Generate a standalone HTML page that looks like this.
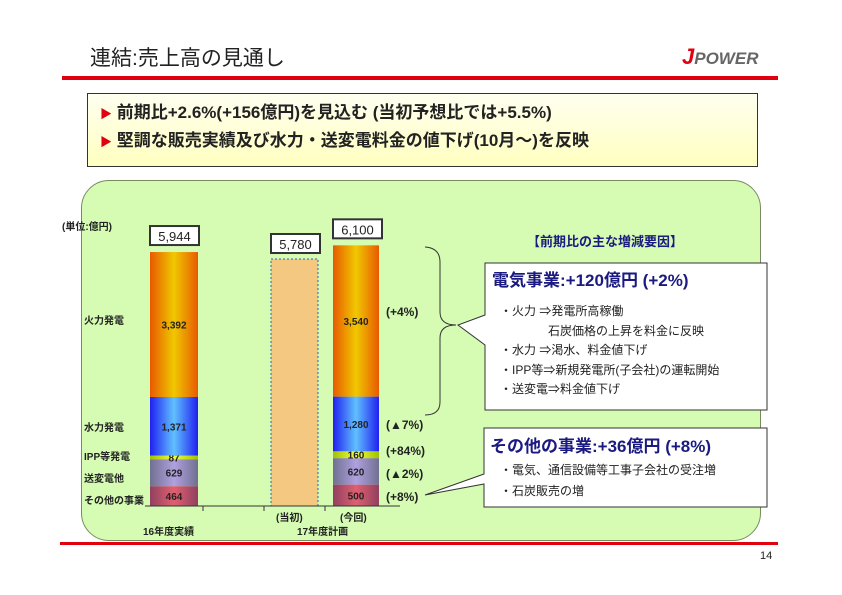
<!DOCTYPE html>
<html><head><meta charset="utf-8">
<style>
body{margin:0;width:842px;height:595px;background:#fff;position:relative;overflow:hidden;font-family:"Liberation Sans","Noto Sans CJK JP",sans-serif;}
.a{position:absolute;white-space:nowrap;}
</style></head>
<body>
<div class="a" style="left:90px;top:42px;font-size:21px;color:#222;">連結:売上高の見通し</div>
<div class="a" style="left:682px;top:44px;font-size:17px;font-weight:bold;font-style:italic;color:#666;"><span style="color:#e00010;font-size:22px;">J</span>POWER</div>
<div class="a" style="left:62px;top:76px;width:716px;height:4px;background:#e00010;"></div>
<div class="a" style="left:87px;top:93px;width:669px;height:72px;border:1px solid #333;background:linear-gradient(#fffff0,#ffffc0);"></div>
<div class="a" style="left:100px;top:98px;font-size:17px;font-weight:bold;color:#222;"><span style="color:#e00010;font-size:12px;">▶</span> 前期比+2.6%(+156億円)を見込む (当初予想比では+5.5%)</div>
<div class="a" style="left:100px;top:126px;font-size:17px;font-weight:bold;color:#222;"><span style="color:#e00010;font-size:12px;">▶</span> 堅調な販売実績及び水力・送変電料金の値下げ(10月～)を反映</div>
<div class="a" style="left:81px;top:180px;width:678px;height:359px;background:#d6fcb4;border:1px solid #7a8a60;border-radius:28px;"></div>
<div class="a" style="left:60px;top:542px;width:718px;height:3px;background:#e00010;"></div>
<div class="a" style="left:760px;top:550px;font-size:11px;color:#222;">14</div>

<svg class="a" style="left:0;top:0" width="842" height="595">
<defs>
<linearGradient id="g0" x1="0" x2="1"><stop offset="0" stop-color="#e85a00"/><stop offset=".5" stop-color="#f0c800"/><stop offset="1" stop-color="#e85a00"/></linearGradient>
<linearGradient id="g1" x1="0" x2="1"><stop offset="0" stop-color="#2020f0"/><stop offset=".5" stop-color="#60c0ff"/><stop offset="1" stop-color="#2020f0"/></linearGradient>
<linearGradient id="g2" x1="0" x2="1"><stop offset="0" stop-color="#a0c000"/><stop offset=".5" stop-color="#f0ff40"/><stop offset="1" stop-color="#a0c000"/></linearGradient>
<linearGradient id="g3" x1="0" x2="1"><stop offset="0" stop-color="#707090"/><stop offset=".5" stop-color="#b0a0e0"/><stop offset="1" stop-color="#707090"/></linearGradient>
<linearGradient id="g4" x1="0" x2="1"><stop offset="0" stop-color="#904060"/><stop offset=".5" stop-color="#e06070"/><stop offset="1" stop-color="#904060"/></linearGradient>
</defs>
<g id="bars"></g>
<g fill="none" stroke="#333" stroke-width="1">
<path d="M425 247 Q440 248 440 262 L440 312 Q440 325 456 325 Q440 325 440 338 L440 402 Q440 415 425 415"/>
</g>
<path d="M485 263 L767 263 L767 410 L485 410 L485 345 L458 325 L485 315 Z" fill="#fff" stroke="#333"/>
<path d="M484 428 L767 428 L767 507 L484 507 L484 484 L425 495 L484 474 Z" fill="#fff" stroke="#333"/>
</svg>

<div class="a" style="left:527px;top:231px;font-size:13px;font-weight:bold;color:#1a1a80;">【前期比の主な増減要因】</div>
<div class="a" style="left:492px;top:266px;font-size:17px;font-weight:bold;color:#1a1a80;">電気事業:+120億円 (+2%)</div>
<div class="a" style="left:500px;top:302px;font-size:12px;line-height:19.5px;color:#222;">・火力 ⇒発電所高稼働<br>　　　　石炭価格の上昇を料金に反映<br>・水力 ⇒渇水、料金値下げ<br>・IPP等⇒新規発電所(子会社)の運転開始<br>・送変電⇒料金値下げ</div>
<div class="a" style="left:490px;top:432px;font-size:17px;font-weight:bold;color:#1a1a80;">その他の事業:+36億円 (+8%)</div>
<div class="a" style="left:500px;top:460px;font-size:12px;line-height:21px;color:#222;">・電気、通信設備等工事子会社の受注増<br>・石炭販売の増</div>

<script>
const categories=["その他の事業","送変電他","IPP等発電","水力発電","火力発電"];
const actual16=[464,629,87,1371,3392];
const plan17=[500,620,160,1280,3540];
const initial17=[5780];
const totals=["5,944","5,780","6,100"];
const pctChange=["(+8%)","(▲2%)","(+84%)","(▲7%)","(+4%)"];
const segNames=['others','transmission','ipp','hydro','thermal'];
const NS='http://www.w3.org/2000/svg';
const svg=document.getElementById('bars');
const base=506, k=254/5944;
const y=v=>base-v*k;
function mk(t,a){const e=document.createElementNS(NS,t);for(const n in a)e.setAttribute(n,a[n]);svg.appendChild(e);return e;}
function txt(s,x,yy,a){const e=mk('text',Object.assign({x:x,y:yy,'font-size':11,'font-weight':'bold','fill':'#222','font-family':'"Liberation Sans","Noto Sans CJK JP",sans-serif'},a||{}));e.textContent=s;return e;}
function stack(vals,x,w,tag){
 let c=0;
 vals.forEach((v,i)=>{
  const r=mk('rect',{x:x,y:y(c+v),width:w,height:v*k,fill:'url(#g'+(4-i)+')'});
  
  
  const l=txt(v.toLocaleString('en-US'),x+w/2,y(c+v/2)+4,{'text-anchor':'middle','font-size':10});
  
  
  c+=v;
 });
 return c;
}
function totalBox(s,x,top){
 const r=mk('rect',{x:x,y:top,width:49,height:19,fill:'#fff',stroke:'#333','stroke-width':2});
 
 
 const t=txt(s,x+24.5,top+15,{'text-anchor':'middle','font-size':13,'font-weight':'normal'});
 
 
}
const t1=stack(actual16,150,48,'fy16');
const t3=stack(plan17,333,46,'fy17-plan');
const b2=mk('rect',{x:271,y:y(initial17[0]),width:47,height:initial17[0]*k,fill:'#f4c880',stroke:'#4060a0','stroke-dasharray':'2,2'});


totalBox(totals[0],150,y(t1)-26);
totalBox(totals[1],271,y(initial17[0])-25);
totalBox(totals[2],333,y(t3)-26);
const ax=mk('path',{d:'M145 506 L400 506 M203 506 v5 M264 506 v5 M325 506 v5',stroke:'#333',fill:'none'});


const catLabelY=[504,482,460,431,324];
categories.forEach((n,i)=>{
 const t=txt(n,84,catLabelY[i],{'font-size':10});
 
 
});
const pctLabelY=[501,478,455,429,316];
pctChange.forEach((p,i)=>{
 const t=txt(p,386,pctLabelY[i],{'font-size':12});
 
 
});
[['(単位:億円)',62,230],['(当初)',276,521],['(今回)',340,521],['16年度実績',143,535],['17年度計画',297,535]].forEach(a=>{
 const t=txt(a[0],a[1],a[2],{'font-size':10});
 
 
});
</script>
</body></html>
